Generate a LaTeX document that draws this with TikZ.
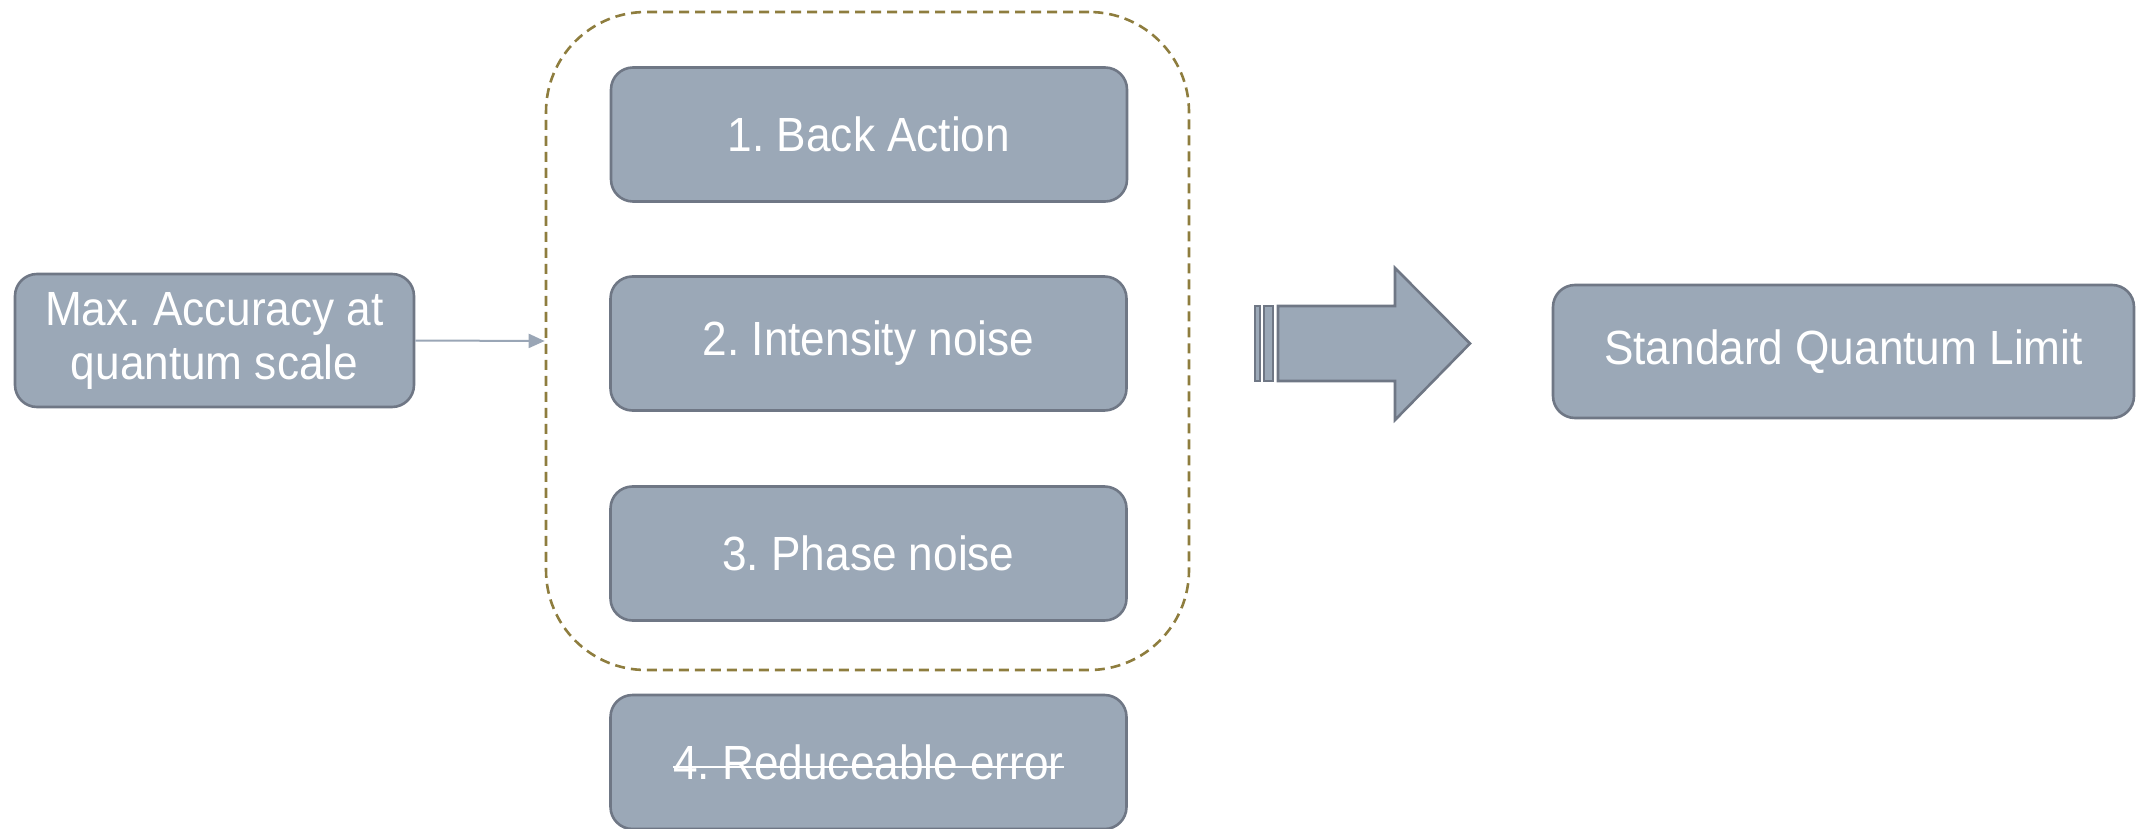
\documentclass[tikz,border=0pt]{standalone}
\usepackage{fontspec}
\setmainfont{Liberation Sans}[FakeStretch=0.92]
\usetikzlibrary{arrows.meta}
\frenchspacing
\definecolor{boxfill}{HTML}{9BA8B7}
\definecolor{boxline}{HTML}{6F7785}
\definecolor{dashcol}{HTML}{8E7D3E}
\definecolor{conn}{HTML}{9AA6B6}
\tikzset{
  box/.style={draw=boxline, fill=boxfill, line width=2.6pt, rounded corners=22pt,
    text=white, font=\fontsize{48}{54}\selectfont\frenchspacing, align=center, inner sep=0pt,
    minimum width=516pt, minimum height=134pt},
  label4/.style={text=white, font=\fontsize{48}{54}\selectfont\frenchspacing, inner sep=0pt},
  strike/.style={draw=white, line width=2pt},
  container/.style={draw=dashcol, line width=2.6pt, dash pattern=on 10pt off 6pt,
    rounded corners=100pt, minimum width=643pt, minimum height=658pt, inner sep=0pt},
  bigarrow/.style={draw=boxline, fill=boxfill, line width=2.6pt, line join=miter},
  connector/.style={draw=conn, line width=2pt, -{Triangle[length=16pt,width=14pt]}}
}
\begin{document}
\begin{tikzpicture}[x=1pt,y=-1pt]
\useasboundingbox (0,0) rectangle (2136,829);
\node[container] (cont) at (867.5,341) {};
\node[box, minimum width=399pt, minimum height=133pt] (left) at (214.5,340.5) {Max. Accuracy at\\quantum scale};
\node[box] (b1) at (869,134.5) {1. Back Action};
\node[box] (b2) at (868.5,343.5) {2. Intensity noise};
\node[box] (b3) at (868.5,553.5) {3. Phase noise};
\node[box] (b4) at (868.5,762) {};
\node[label4] (t4) at (b4.center) {4. Reduceable error};
\draw[strike] ([yshift=12pt]t4.base west) -- ([yshift=12pt]t4.base east);
\node[box, minimum width=581pt, minimum height=133pt] (right) at (1843.5,351.5) {Standard Quantum Limit};
\draw[connector] (left.east) -- (cont.west);
\draw[bigarrow] (1255,306) rectangle (1260,381);
\draw[bigarrow] (1264,306) rectangle (1273,381);
\draw[bigarrow] (1278,306) -- (1395,306) -- (1395,268) -- (1470,343.5) -- (1395,420) -- (1395,381) -- (1278,381) -- cycle;
\end{tikzpicture}
\end{document}
